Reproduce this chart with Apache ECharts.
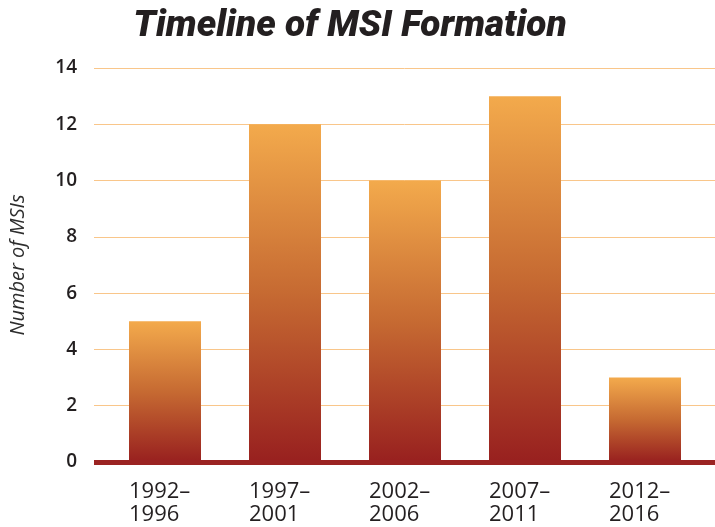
<!DOCTYPE html>
<html>
<head>
<meta charset="utf-8">
<script src="https://cdn.jsdelivr.net/npm/echarts@6/dist/echarts.min.js"></script>
<style>
  html, body { margin: 0; padding: 0; background: #ffffff; }
  #chart { width: 715px; height: 527px; }
</style>
</head>
<body>
<div id="chart"></div>
<script>
// Five-year periods and the number of MSIs formed in each
const periods = ['1992–\n1996', '1997–\n2001', '2002–\n2006', '2007–\n2011', '2012–\n2016'];
const msiCounts = [5, 12, 10, 13, 3];
const yTicks = [0, 2, 4, 6, 8, 10, 12, 14];

const ink = '#231f20';
const labelFont = '"Open Sans", sans-serif';

const chart = echarts.init(document.getElementById('chart'));

chart.setOption({
  backgroundColor: '#ffffff',
  animation: false,
  title: {
    text: 'Timeline of MSI Formation',
    left: 345,
    textAlign: 'center',
    top: 3,
    textStyle: {
      fontFamily: 'Roboto, sans-serif',
      fontStyle: 'italic',
      fontWeight: 900,
      fontSize: 37,
      color: ink
    }
  },
  grid: [
    // full-width grid carrying the value axis, gridlines and baseline
    { left: 93, right: 0, top: 68, bottom: 65 },
    // inner grid where the bars sit
    { left: 105, right: 10, top: 68, bottom: 65 }
  ],
  xAxis: [
    {
      gridIndex: 0,
      type: 'value',
      min: 0,
      max: 1,
      axisLine: { show: true, lineStyle: { color: '#9b2322', width: 5, cap: 'butt' } },
      axisTick: { show: false },
      axisLabel: { show: false },
      splitLine: { show: false },
      z: 5
    },
    {
      gridIndex: 1,
      type: 'category',
      data: periods,
      axisLine: { show: false },
      axisTick: { show: false },
      axisLabel: {
        interval: 0,
        hideOverlap: false,
        margin: 18,
        fontFamily: labelFont,
        fontSize: 22,
        color: ink,
        lineHeight: 23,
        formatter: function (v) {
          return v.split('\n').map(function (s) { return '{a|' + s + '}'; }).join('\n');
        },
        rich: {
          a: { width: 72, align: 'left', fontFamily: labelFont, fontSize: 22, color: ink, lineHeight: 23 }
        }
      }
    }
  ],
  yAxis: [
    {
      gridIndex: 0,
      type: 'value',
      min: yTicks[0],
      max: yTicks[yTicks.length - 1],
      interval: 2,
      name: 'Number of MSIs',
      nameLocation: 'middle',
      nameGap: 66,
      nameTextStyle: {
        fontFamily: labelFont,
        fontStyle: 'italic',
        fontWeight: 400,
        fontSize: 20,
        color: '#2e2e2e'
      },
      axisLine: { show: false },
      axisTick: { show: false },
      axisLabel: {
        margin: 17,
        fontFamily: labelFont,
        fontWeight: 600,
        fontSize: 19,
        color: ink
      },
      splitLine: { lineStyle: { color: '#f9c68a', width: 1 } }
    },
    {
      gridIndex: 1,
      type: 'value',
      min: yTicks[0],
      max: yTicks[yTicks.length - 1],
      interval: 2,
      show: false,
      splitLine: { show: false }
    }
  ],
  series: [
    {
      type: 'bar',
      xAxisIndex: 1,
      yAxisIndex: 1,
      data: msiCounts,
      barWidth: 72,
      z: 3,
      itemStyle: {
        color: new echarts.graphic.LinearGradient(0, 0, 0, 1, [
          { offset: 0, color: '#f3aa4c' },
          { offset: 0.5, color: '#c66a32' },
          { offset: 1, color: '#98201f' }
        ], false)
      }
    }
  ]
});
</script>
</body>
</html>
